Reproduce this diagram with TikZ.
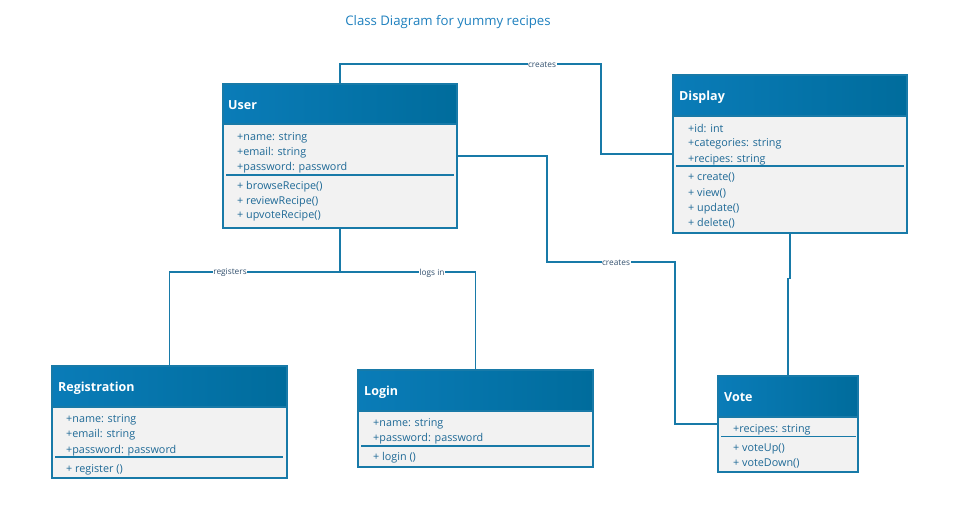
\documentclass[tikz,border=0pt]{standalone}
\usepackage{fontspec}
\setmainfont{Open Sans}
\definecolor{boxblue}{RGB}{24,122,168}
\definecolor{headA}{RGB}{10,124,184}
\definecolor{headM}{RGB}{2,130,188}
\definecolor{headB}{RGB}{0,108,156}
\definecolor{bodyfill}{RGB}{242,242,242}
\definecolor{membertext}{RGB}{30,105,150}
\definecolor{linklabel}{RGB}{50,80,110}
\definecolor{titletext}{RGB}{30,128,190}
\tikzset{
  classbox/.style={draw=boxblue, line width=1.1pt, fill=bodyfill, inner sep=0pt},
  classhead/.style={draw=boxblue, line width=1.1pt, left color=headA, middle color=headM, right color=headB, inner sep=0pt},
  headtext/.style={anchor=west, text=white, font=\fontsize{12.5}{15}\selectfont\bfseries, inner sep=0pt},
  member/.style={anchor=west, text=membertext, font=\fontsize{10.8}{13}\selectfont, inner sep=0pt},
  sepline/.style={draw=boxblue, line width=1.1pt},
  link/.style={draw=boxblue, line width=1.2pt},
  lbl/.style={fill=white, text=linklabel, font=\fontsize{8.3}{10}\selectfont, inner sep=0.5pt}
}
\begin{document}
\begin{tikzpicture}[x=1pt, y=-1pt]
  \useasboundingbox (0,0) rectangle (955,521);

  \node[text=titletext, font=\fontsize{13.2}{16}\selectfont] (title) at (448,22) {Class Diagram for yummy recipes};

  % User
  \node[classbox, minimum width=234pt, minimum height=144pt] (user) at (340,156) {};
  \node[classhead, minimum width=234pt, minimum height=40pt, anchor=north] (userhead) at (user.north) {};
  \node[headtext] (usertitle) at (228,105.5) {User};
  \foreach \t [count=\i] in {+name: string, +email: string, +password: password}
    \node[member] at (237,122.5+15*\i) {\t};
  \draw[sepline] (226,175) -- (454,175);
  \foreach \t [count=\i] in {+ browseRecipe(), + reviewRecipe(), + upvoteRecipe()}
    \node[member] at (237,172.5+14.5*\i) {\t};

  % Display
  \node[classbox, minimum width=234pt, minimum height=158pt] (display) at (790,154) {};
  \node[classhead, minimum width=234pt, minimum height=41pt, anchor=north] (displayhead) at (display.north) {};
  \node[headtext] (displaytitle) at (679,97.5) {Display};
  \foreach \t [count=\i] in {+id: int, +categories: string, +recipes: string}
    \node[member] at (688,113+15.5*\i) {\t};
  \draw[sepline] (676,166) -- (904,166);
  \foreach \t [count=\i] in {+ create(), + view(), + update(), + delete()}
    \node[member] at (688,162.5+15.3*\i) {\t};

  % Registration
  \node[classbox, minimum width=235pt, minimum height=112pt] (registration) at (169.5,422) {};
  \node[classhead, minimum width=235pt, minimum height=41pt, anchor=north] (registrationhead) at (registration.north) {};
  \node[headtext] (registrationtitle) at (58,388.5) {Registration};
  \foreach \t [count=\i] in {+name: string, +email: string, +password: password}
    \node[member] at (66,404+15.5*\i) {\t};
  \draw[sepline] (55,457) -- (283,457);
  \node[member] at (66,469.5) {+ register ()};

  % Login
  \node[classbox, minimum width=235pt, minimum height=97pt] (login) at (475.5,418.5) {};
  \node[classhead, minimum width=235pt, minimum height=41pt, anchor=north] (loginhead) at (login.north) {};
  \node[headtext] (logintitle) at (364,392.5) {Login};
  \foreach \t [count=\i] in {+name: string, +password: password}
    \node[member] at (373,408.5+15*\i) {\t};
  \draw[sepline] (361,446) -- (590,446);
  \node[member] at (373,457.5) {+ login ()};

  % Vote
  \node[classbox, minimum width=140pt, minimum height=96pt] (vote) at (788,424) {};
  \node[classhead, minimum width=140pt, minimum height=41pt, anchor=north] (votehead) at (vote.north) {};
  \node[headtext] (votetitle) at (724,397.5) {Vote};
  \node[member] at (733,429.5) {+recipes: string};
  \draw[sepline] (721,436.5) -- (856,436.5);
  \foreach \t [count=\i] in {+ voteUp(), + voteDown()}
    \node[member] at (733,433.5+15*\i) {\t};

  % connectors
  \draw[link] (user.north) |- (601,64) |- (display.west);
  \node[lbl] (lblcreatesa) at (542,64.5) {creates};

  \draw[link] (user.east) -| (547,262) -| (675,340) |- (vote.west);
  \node[lbl] (lblcreatesb) at (616,262.5) {creates};

  \draw[link] (user.south) |- (340,272) -| (registration.north);
  \draw[link] (340,272) -| (login.north);
  \node[lbl] (lblregisters) at (230,272.5) {registers};
  \node[lbl] (lbllogsin) at (432,273) {logs in};

  \draw[link] (display.south) -- ++(0,45) -| (vote.north);
\end{tikzpicture}
\end{document}
